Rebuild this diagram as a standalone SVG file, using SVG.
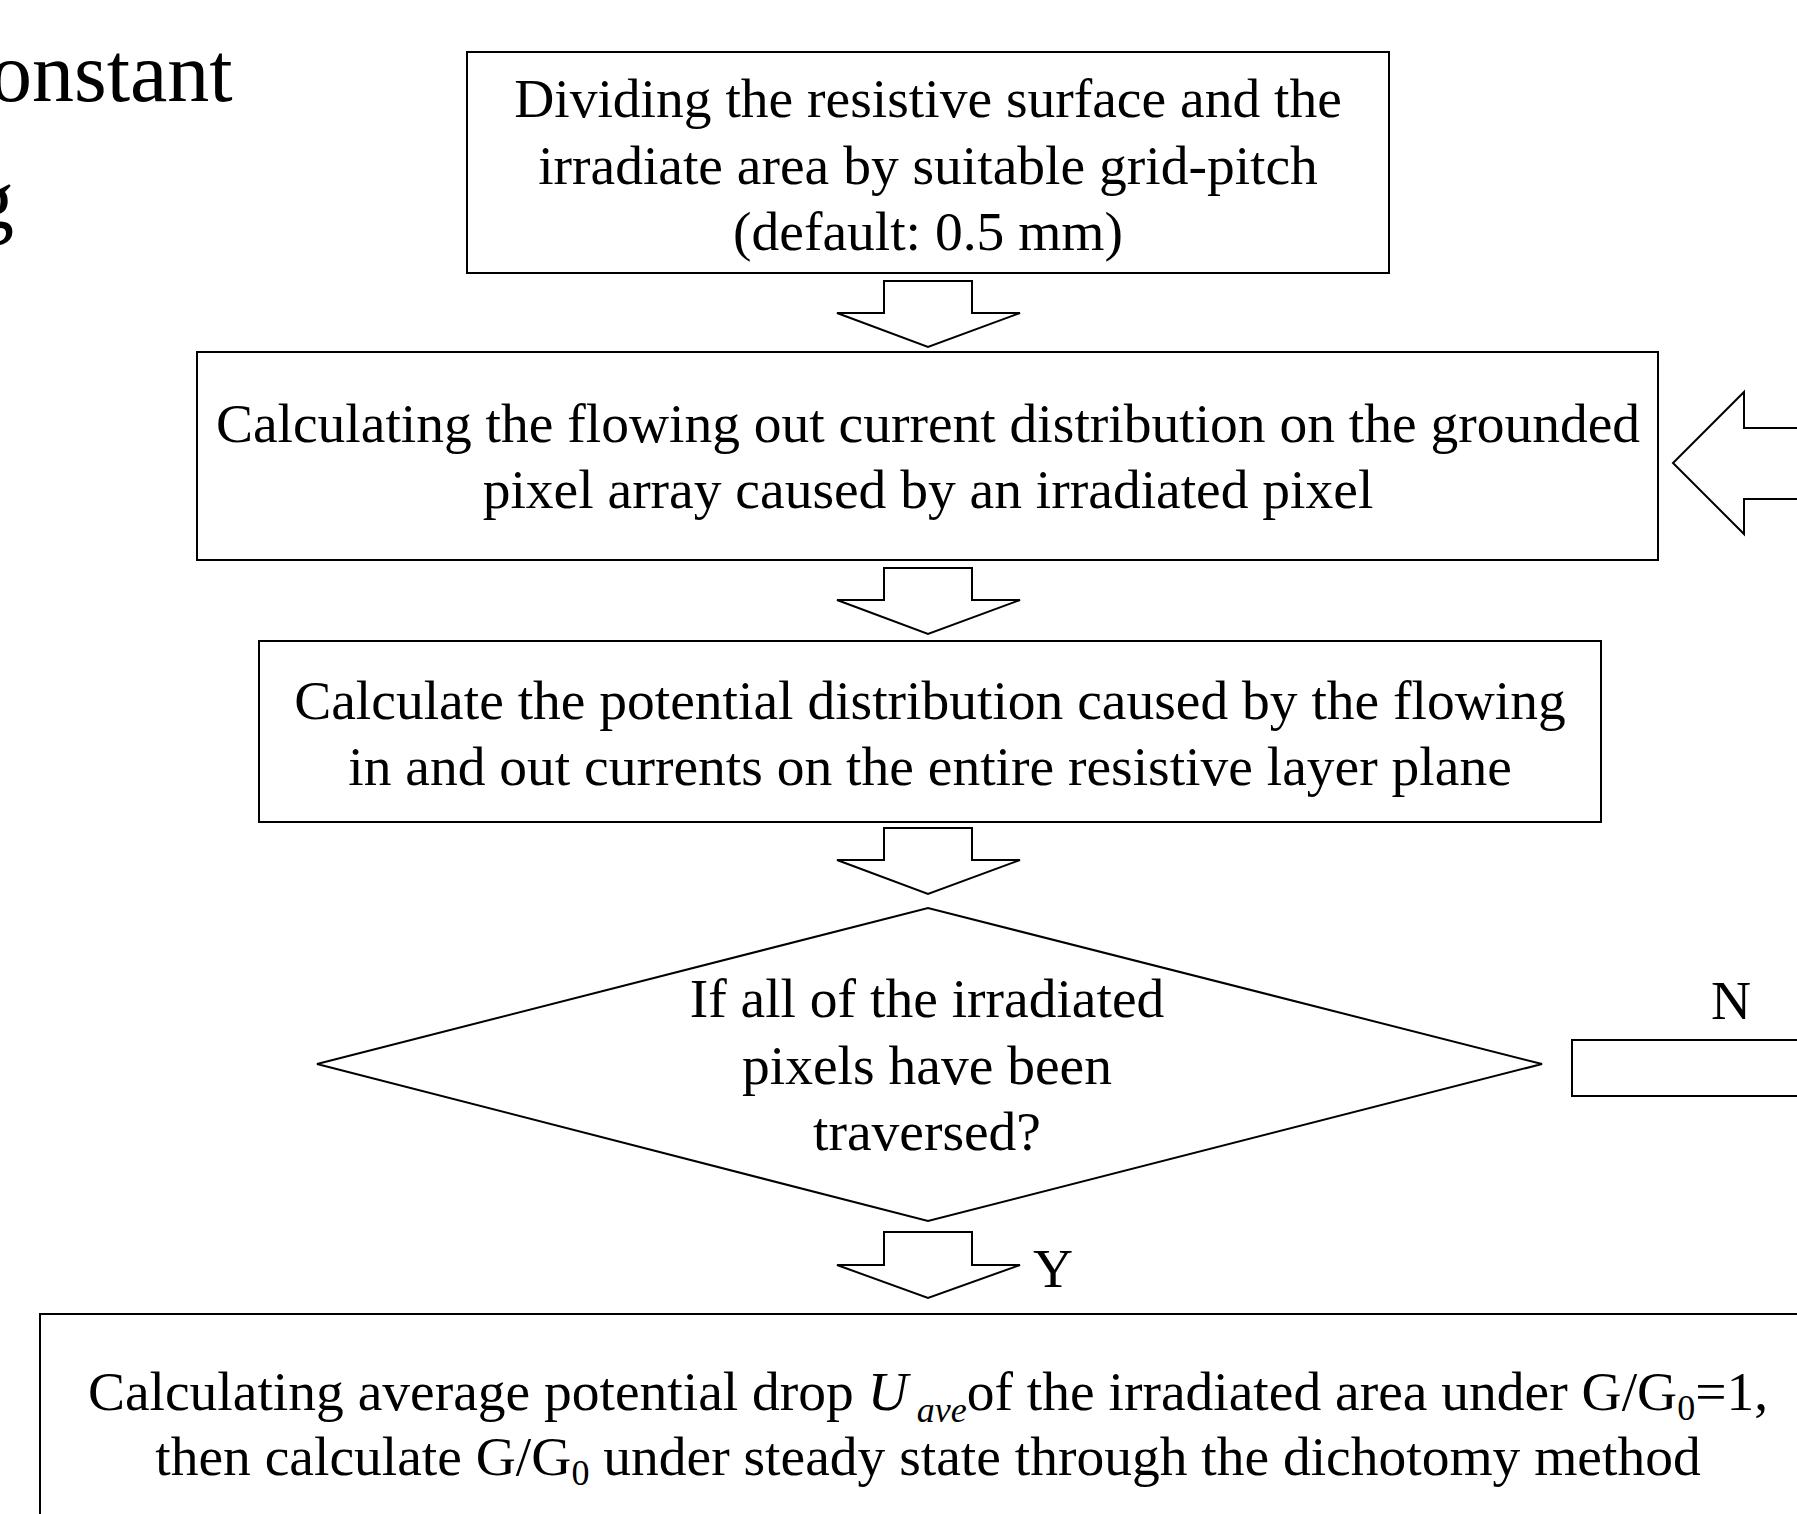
<svg xmlns="http://www.w3.org/2000/svg" width="1797" height="1514" viewBox="0 0 1797 1514">
<style>
.box{fill:#fff;stroke:#000;stroke-width:2}
.arr{fill:#fff;stroke:#000;stroke-width:2;stroke-linejoin:miter}
text{font-family:"Liberation Serif","Times New Roman",serif;font-size:55.5px;fill:#000}
.c{text-anchor:middle}
.big{font-size:84px}
.it{font-style:italic}
.sub{font-size:36px}
</style>
<rect width="1797" height="1514" fill="#fff"/>
<g id="fragment-text">
<text class="big" x="-10" y="101">onstant</text>
<text class="big" x="-28" y="228">g</text>
</g>
<g id="connectors">
<polygon class="arr" points="884,281 972,281 972,313 1020,313 928,347 837,313 884,313"/>
<polygon class="arr" points="884,568 972,568 972,600 1020,600 928,634 837,600 884,600"/>
<polygon class="arr" points="884,828 972,828 972,860 1020,860 928,894 837,860 884,860"/>
<polygon class="arr" points="884,1232 972,1232 972,1265 1020,1265 928,1298 837,1265 884,1265"/>
<polygon class="arr" points="1800,428 1744,428 1744,392 1673,463 1744,534 1744,499 1800,499"/>
<rect class="box" x="1572" y="1040" width="240" height="56"/>
<text x="1731" y="1019" class="c">N</text>
<text x="1033" y="1287">Y</text>
</g>
<g id="node-divide">
<rect class="box" x="467" y="52" width="922" height="221"/>
<text class="c" x="928" y="117">Dividing the resistive surface and the</text>
<text class="c" x="928" y="184">irradiate area by suitable grid-pitch</text>
<text class="c" x="928" y="250">(default: 0.5 mm)</text>
</g>
<g id="node-current">
<rect class="box" x="197" y="352" width="1461" height="208"/>
<text class="c" x="928" y="442">Calculating the flowing out current distribution on the grounded</text>
<text class="c" x="928" y="508">pixel array caused by an irradiated pixel</text>
</g>
<g id="node-potential">
<rect class="box" x="259" y="641" width="1342" height="181"/>
<text class="c" x="930" y="719">Calculate the potential distribution caused by the flowing</text>
<text class="c" x="930" y="785">in and out currents on the entire resistive layer plane</text>
</g>
<g id="node-decision">
<polygon class="box" points="317,1064 928,908 1542,1064 928,1221"/>
<text class="c" x="927" y="1017">If all of the irradiated</text>
<text class="c" x="927" y="1084">pixels have been</text>
<text class="c" x="927" y="1150">traversed?</text>
</g>
<g id="node-result">
<rect class="box" x="40" y="1314" width="1800" height="260"/>
<text class="c" x="928" y="1410">Calculating average potential drop <tspan class="it">U</tspan><tspan class="it sub" dy="12"> ave</tspan><tspan dy="-12">of the irradiated area under G/G</tspan><tspan class="sub" dy="10">0</tspan><tspan dy="-10">=1,</tspan></text>
<text class="c" x="928" y="1475">then calculate G/G<tspan class="sub" dy="10">0</tspan><tspan dy="-10"> under steady state through the dichotomy method</tspan></text>
</g>
</svg>
